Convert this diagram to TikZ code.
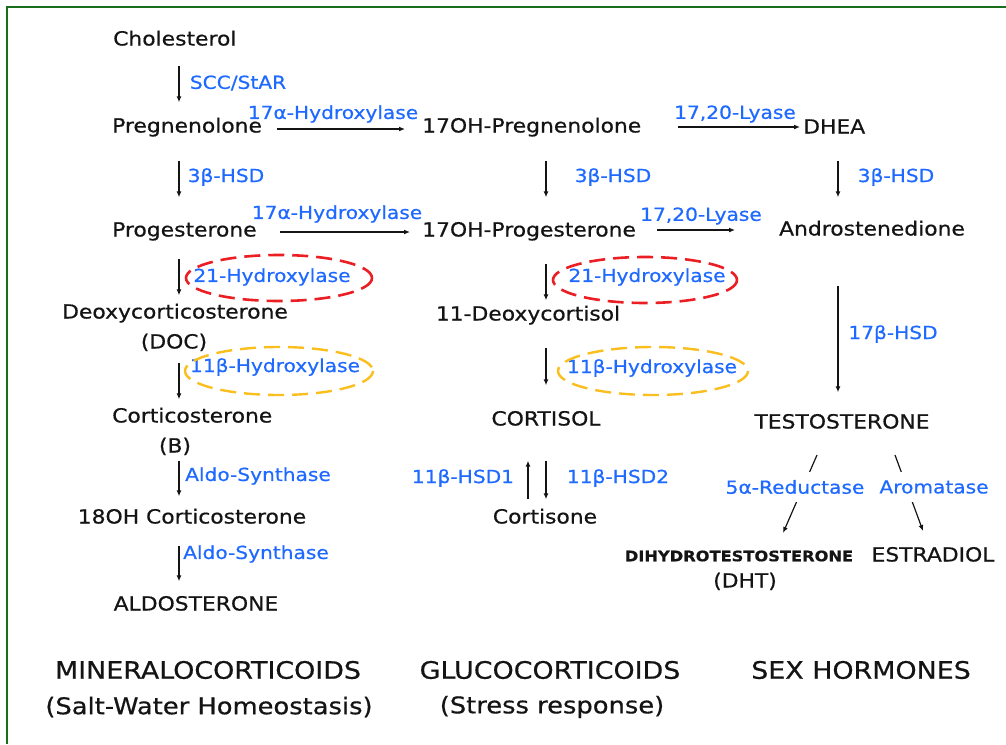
\documentclass[tikz,border=0pt]{standalone}
\usepackage{fontspec}
\setmainfont[FakeStretch=1.12,FakeBold=0.6]{DejaVu Sans}
\usetikzlibrary{arrows.meta,calc}
\definecolor{enzblue}{RGB}{30,105,255}
\definecolor{dashred}{RGB}{235,30,35}
\definecolor{dashyel}{RGB}{250,190,30}
\definecolor{framegreen}{RGB}{25,110,25}
\definecolor{ink}{RGB}{20,20,20}
\begin{document}
\begin{tikzpicture}[x=1pt,y=-1pt,
  hb/.style={font=\fontsize{19.5}{22}\selectfont, text=ink, inner xsep=2pt, inner ysep=0pt, text height=15pt, text depth=4pt},
  small/.style={font=\fontsize{14.5}{16}\selectfont\bfseries, text=ink, inner sep=1pt},
  enz/.style={font=\fontsize{18}{20}\selectfont, text=enzblue, inner sep=1pt},
  catg/.style={font=\fontsize{24}{28}\selectfont, text=ink, inner sep=1pt},
  catsub/.style={font=\fontsize{23}{26}\selectfont, text=ink, inner sep=1pt},
  arr/.style={draw=ink, line width=1.2pt, -{Latex[length=6pt,width=5pt]}},
  reddash/.style={draw=dashred, line width=2.6pt, dash pattern=on 16pt off 8pt},
  yeldash/.style={draw=dashyel, line width=2.4pt, dash pattern=on 16pt off 8pt}]
\useasboundingbox (0,0) rectangle (1006,744);
% frame
\draw[framegreen, line width=2.8pt] (7,744) -- (7,7) -- (1006,7);
% column coordinates
\coordinate (cA) at (179,0);
\coordinate (cB) at (546,0);
\coordinate (cBu) at (528,0);
\coordinate (cC) at (838,0);
% compounds
\node[hb, anchor=west] (chol) at (111,40) {Cholesterol};
\node[hb, anchor=west] (preg) at (110,127) {Pregnenolone};
\node[hb, anchor=west] (preg17) at (420,127) {17OH-Pregnenolone};
\node[hb, anchor=west] (dhea) at (801,128) {DHEA};
\node[hb, anchor=west] (prog) at (110,231) {Progesterone};
\node[hb, anchor=west] (prog17) at (420,231) {17OH-Progesterone};
\node[hb] (andro) at (872,230) {Androstenedione};
\node[hb] (doc) at (175,313) {Deoxycorticosterone};
\node[hb] (docab) at (174,343) {(DOC)};
\node[hb] (deoxy) at (528,315) {11-Deoxycortisol};
\node[hb, anchor=west] (cortico) at (110,417) {Corticosterone};
\node[hb] (coab) at (175,447) {(B)};
\node[hb] (cortisol) at (546,420) {CORTISOL};
\node[hb] (testo) at (842,423) {TESTOSTERONE};
\node[hb] (oh18) at (192,518) {18OH Corticosterone};
\node[hb] (cortisone) at (545,518) {Cortisone};
\node[small] (dht) at (739,556) {DIHYDROTESTOSTERONE};
\node[hb] (dhtab) at (745,582) {(DHT)};
\node[hb] (estra) at (933,556) {ESTRADIOL};
\node[hb] (aldo) at (196,605) {ALDOSTERONE};
% categories
\node[catg] (mineral) at (208,670) {MINERALOCORTICOIDS};
\node[catsub] (mineralb) at (209,707) {(Salt-Water Homeostasis)};
\node[catg] (gluco) at (550,670) {GLUCOCORTICOIDS};
\node[catsub] (glucob) at (552,707) {(Stress response)};
\node[catg] (sex) at (861,670) {SEX HORMONES};
% vertical arrows
\draw[arr, shorten <=16pt, shorten >=15pt] (chol.south -| cA) -- (preg.north -| cA);
\draw[arr, shorten <=24pt, shorten >=24pt] (preg.south -| cA) -- (prog.north -| cA);
\draw[arr, shorten <=24pt, shorten >=24pt] (preg17.south -| cB) -- (prog17.north -| cB);
\draw[arr, shorten <=23pt, shorten >=23pt] (dhea.south -| cC) -- (andro.north -| cC);
\draw[arr, shorten <=18pt, shorten >=8pt] (prog.south -| cA) -- (doc.north -| cA);
\draw[arr, shorten <=23pt, shorten >=5pt] (prog17.south -| cB) -- (deoxy.north -| cB);
\draw[arr, shorten <=46pt, shorten >=21pt] (andro.south -| cC) -- (testo.north -| cC);
\draw[arr, shorten <=10pt, shorten >=8pt] (docab.south -| cA) -- (cortico.north -| cA);
\draw[arr, shorten <=23pt, shorten >=25pt] (deoxy.south -| cB) -- (cortisol.north -| cB);
\draw[arr, shorten <=4pt, shorten >=12pt] (coab.south -| cA) -- (oh18.north -| cA);
\draw[arr, shorten <=18pt, shorten >=14pt] (oh18.south -| cA) -- (aldo.north -| cA);
\draw[arr, shorten <=9pt, shorten >=31pt] (cortisone.north -| cBu) -- (cortisol.south -| cBu);
\draw[arr, shorten <=31pt, shorten >=9pt] (cortisol.south -| cB) -- (cortisone.north -| cB);
% horizontal arrows
\draw[arr] ($(preg.west)+(167,2)$) -- ($(preg17.west)+(-15,2)$);
\draw[arr] ($(preg17.west)+(258,0)$) -- ($(dhea.west)+(-1,-1)$);
\draw[arr] ($(prog.west)+(170,1)$) -- ($(prog17.west)+(-10,1)$);
\draw[arr] ($(prog17.west)+(237,-1)$) -- ($(andro.center)+(-137,0)$);
% diagonal arrows from testosterone
\draw[arr] ($(testo)+(-25,32)$) -- ($(dht)+(44,-23)$);
\draw[arr] ($(testo)+(53,32)$) -- ($(estra)+(-10,-25)$);
% enzyme labels
\node[enz] (scc) at (238,83) {SCC/StAR};
\node[enz] (h17a) at (333,114) {17α-Hydroxylase};
\node[enz] (ly1) at (735,114) {17,20-Lyase};
\node[enz] (b3a) at (226,177) {3β-HSD};
\node[enz] (b3b) at (613,177) {3β-HSD};
\node[enz] (b3c) at (896,177) {3β-HSD};
\node[enz] (h17b) at (337,214) {17α-Hydroxylase};
\node[enz] (ly2) at (701,216) {17,20-Lyase};
\node[enz] (h21a) at (272,277) {21-Hydroxylase};
\node[enz] (h21b) at (647,277) {21-Hydroxylase};
\node[enz] (hsd17) at (893,334) {17β-HSD};
\node[enz] (h11a) at (275,367) {11β-Hydroxylase};
\node[enz] (h11b) at (652,368) {11β-Hydroxylase};
\node[enz] (aldsa) at (258,476) {Aldo-Synthase};
\node[enz] (aldsb) at (256,554) {Aldo-Synthase};
\node[enz] (hsd1) at (463,478) {11β-HSD1};
\node[enz] (hsd2) at (618,478) {11β-HSD2};
\node[enz, fill=white, inner ysep=8pt] (red5) at (795,487) {5α-Reductase};
\node[enz, fill=white, inner ysep=8pt] (arom) at (934,487) {Aromatase};
% dashed ellipses
\draw[reddash] (279,278) ellipse [x radius=93, y radius=23];
\draw[reddash] (645,280) ellipse [x radius=92, y radius=23];
\draw[yeldash] (279,371) ellipse [x radius=94, y radius=24];
\draw[yeldash] (653,371) ellipse [x radius=95, y radius=24];
\end{tikzpicture}
\end{document}
